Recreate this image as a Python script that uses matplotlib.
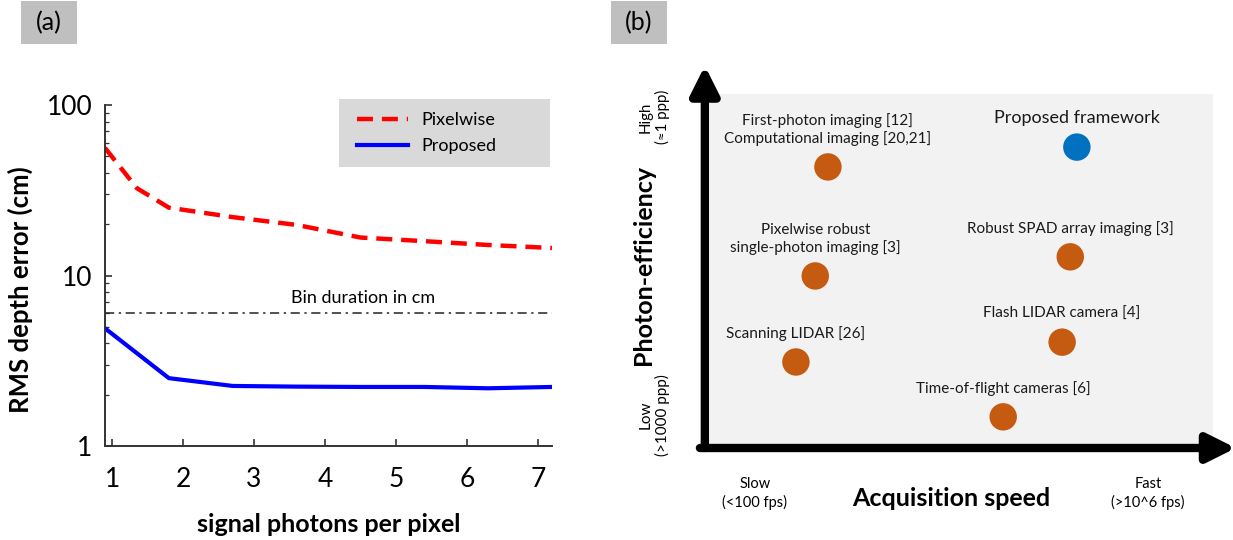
import matplotlib
matplotlib.use("Agg")
import matplotlib.pyplot as plt
from matplotlib.patches import Rectangle

plt.rcParams['font.family'] = ['Lato', 'DejaVu Sans']

# (a) RMS depth error vs signal photons per pixel
ppp_pix = [0.9, 1.35, 1.8, 2.7, 3.6, 4.5, 5.4, 6.3, 7.2]
rms_pix = [56, 32.5, 25, 22, 19.8, 16.7, 15.9, 15.1, 14.5]
ppp_prop = [0.9, 1.8, 2.7, 3.6, 4.5, 5.4, 6.3, 7.2]
rms_prop = [4.9, 2.5, 2.25, 2.23, 2.22, 2.22, 2.18, 2.22]
bin_cm = 6.0

# (b) photon-efficiency vs acquisition speed (qualitative positions)
methods = ["First-photon imaging [12]\nComputational imaging [20,21]",
           "Proposed framework",
           "Pixelwise robust\nsingle-photon imaging [3]",
           "Robust SPAD array imaging [3]",
           "Scanning LIDAR [26]",
           "Flash LIDAR camera [4]",
           "Time-of-flight cameras [6]"]
speed = [2.42, 7.32, 2.17, 7.19, 1.79, 7.03, 5.87]
efficiency = [7.94, 8.50, 4.86, 5.40, 2.43, 2.99, 0.88]
is_ours = [False, True, False, False, False, False, False]

W, H = 1233, 540
fig = plt.figure(figsize=(W / 100, H / 100), dpi=100)

def box(l, t, r, b):
    # pixel box -> figure fraction rect
    return [l / W, 1 - b / H, (r - l) / W, (b - t) / H]

def grey_rect(target, l, t, r, b, fc, z):
    x0, y0, w, h = box(l, t, r, b)
    target.add_artist(Rectangle((x0, y0), w, h, transform=fig.transFigure,
                                fc=fc, ec='none', zorder=z, clip_on=False))

def tag(l, t, r, b, s):
    grey_rect(fig, l, t, r, b, '#bfbfbf', 1)
    fig.text((l + r) / 2 / W, 1 - (t + b) / 2 / H, s, ha='center', va='center',
             fontsize=18, zorder=2)

# ---------------- panel (a) ----------------
ax = fig.add_axes(box(105, 105, 552, 446))
ax.plot(ppp_pix, rms_pix, color='#ff0000', lw=3.2, dashes=(3.6, 2), label='Pixelwise')
ax.plot(ppp_prop, rms_prop, color='#0000ff', lw=3, label='Proposed')
ax.axhline(bin_cm, color='#222222', lw=1.1, ls=(0, (6, 3, 1.5, 3)))
ax.text(4.54, 7.4, 'Bin duration in cm', ha='center', va='center', fontsize=13)

ax.set_yscale('log')
ax.set_ylim(1, 100)
ax.set_xlim(0.9, 7.2)
ax.set_xticks(range(1, 8))
ax.set_yticks([1, 10, 100])
ax.set_yticklabels(['1', '10', '100'])
for s in ['top', 'right']:
    ax.spines[s].set_visible(False)
for s in ['left', 'bottom']:
    ax.spines[s].set_color('#333333')
    ax.spines[s].set_linewidth(1.4)
ax.tick_params(which='both', direction='in', color='#333333')
ax.tick_params(axis='x', which='major', length=5, width=1.2, labelsize=19, pad=15)
ax.tick_params(axis='y', which='major', length=5, width=1.2, labelsize=19, pad=9)
ax.tick_params(axis='y', which='minor', length=3, width=0.9)
fig.text(20 / W, 1 - 290 / H, 'RMS depth error (cm)', rotation=90, ha='center', va='center',
         fontsize=18.5, fontweight='bold')
ax.set_xlabel('signal photons per pixel', fontsize=18, fontweight='bold', labelpad=15)

# legend on a grey panel
grey_rect(ax, 339, 99, 550, 167, '#d9d9d9', 4)
leg = ax.legend(loc='upper left', bbox_to_anchor=(357 / W, 1 - 112 / H),
                bbox_transform=fig.transFigure, fontsize=13, frameon=False,
                handlelength=2.8, handletextpad=0.75, borderpad=0, labelspacing=0.55,
                borderaxespad=0)
leg.set_zorder(6)

# panel tags
tag(21, 1, 77, 44, '(a)')
tag(611, 1, 667, 44, '(b)')

# ---------------- panel (b) ----------------
bx = fig.add_axes(box(705, 94, 1213, 448))
bx.set_facecolor('#f2f2f2')
bx.set_xlim(0, 10)
bx.set_ylim(0, 10)
bx.set_xticks([])
bx.set_yticks([])
for s in bx.spines.values():
    s.set_visible(False)

cols = ['#0070c0' if o else '#c55a11' for o in is_ours]
bx.scatter(speed, efficiency, s=390, c=cols, edgecolors='none', zorder=3)
for name, xv, yv, o in zip(methods, speed, efficiency, is_ours):
    bx.annotate(name, (xv, yv), xytext=(0, 15), textcoords='offset points',
                ha='center', va='bottom', fontsize=13 if o else 11,
                linespacing=1.25, color='#1a1a1a')

# thick axis arrows
arrow = dict(arrowstyle='-|>,head_length=1.7,head_width=0.85', lw=6, color='black',
             shrinkA=0, shrinkB=0)
bx.annotate('', xy=(-0.1, 1.08), xytext=(-0.1, 0.0),
            xycoords=('axes points', 'axes fraction'), textcoords=('axes points', 'axes fraction'),
            arrowprops=arrow, annotation_clip=False)
bx.annotate('', xy=(1.045, 0.0), xytext=(-0.01, 0.0),
            xycoords='axes fraction', arrowprops=arrow, annotation_clip=False)

bx.text(-0.1, 0.935, 'High\n(\u22481 ppp)', transform=bx.transAxes, rotation=90,
        ha='center', va='center', fontsize=10.8, linespacing=1.25)
bx.text(-0.1, 0.093, 'Low\n(>1000 ppp)', transform=bx.transAxes, rotation=90,
        ha='center', va='center', fontsize=11, linespacing=1.25)
bx.text(-0.122, 0.518, 'Photon-efficiency', transform=bx.transAxes, rotation=90,
        ha='center', va='center', fontsize=18, fontweight='bold')
bx.text(0.098, -0.128, 'Slow\n(<100 fps)', transform=bx.transAxes,
        ha='center', va='center', fontsize=10.5, linespacing=1.3)
bx.text(0.872, -0.128, 'Fast\n(>10^6 fps)', transform=bx.transAxes,
        ha='center', va='center', fontsize=10.5, linespacing=1.3)
bx.text(0.484, -0.142, 'Acquisition speed', transform=bx.transAxes,
        ha='center', va='center', fontsize=18, fontweight='bold')

fig.savefig('out.png', dpi=100)
